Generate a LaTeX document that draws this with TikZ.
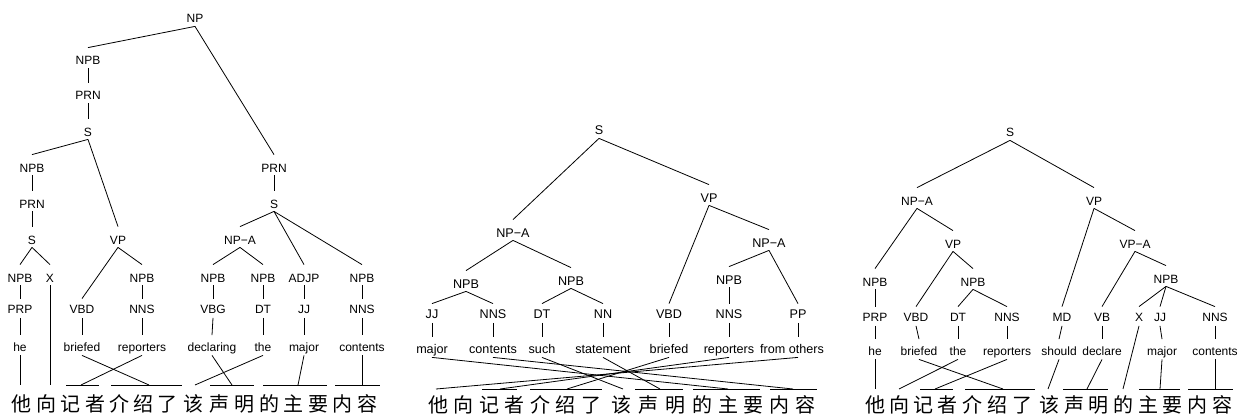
\documentclass[tikz,border=0pt]{standalone}
\usepackage{fontspec}
\setmainfont{Liberation Sans}
\newfontfamily\cjk{Noto Sans CJK SC}
\begin{document}
\begin{tikzpicture}[x=1pt,y=-1pt,line width=0.8pt,
  lab/.style={anchor=base,font=\fontsize{12}{14}\selectfont,inner xsep=1pt,inner ysep=0pt,text height=17pt,text depth=3pt},
  tag/.style={lab,text height=14pt,text depth=4.5pt},
  wrd/.style={lab,text height=15.5pt,text depth=4pt},
  zh/.style={anchor=base,font=\cjk\fontsize{20}{24}\selectfont,inner sep=0pt}]
\useasboundingbox (0,0) rectangle (1239,417);

% ---------------- Tree 1 ----------------
\node[lab] (A0) at (195,23) {NP};
\node[lab] (A1) at (88,65) {NPB};
\node[lab] (A2) at (88,100) {PRN};
\node[lab] (A3) at (88,136) {S};
\node[lab] (A4) at (32,172) {NPB};
\node[lab] (A5) at (32,208) {PRN};
\node[lab] (A6) at (32,244) {S};
\node[lab] (A7) at (118,244) {VP};
\node[lab] (A8) at (274,172) {PRN};
\node[lab] (A9) at (274,208) {S};
\node[lab] (A10) at (240,244) {NP−A};
\node[lab] (A11) at (20,282) {NPB};
\node[lab] (A12) at (50,282) {X};
\node[lab] (A13) at (142,282) {NPB};
\node[lab] (A14) at (213,282) {NPB};
\node[lab] (A15) at (263,282) {NPB};
\node[lab] (A16) at (304,282) {ADJP};
\node[lab] (A17) at (362,282) {NPB};
\node[tag] (A18) at (20,313) {PRP};
\node[tag] (A19) at (82,313) {VBD};
\node[tag] (A20) at (142,313) {NNS};
\node[tag] (A21) at (213,313) {VBG};
\node[tag] (A22) at (263,313) {DT};
\node[tag] (A23) at (304,313) {JJ};
\node[tag] (A24) at (362,313) {NNS};
\node[wrd] (A25) at (20,351) {he};
\node[wrd] (A26) at (82,351) {briefed};
\node[wrd] (A27) at (142,351) {reporters};
\node[wrd] (A28) at (212,351) {declaring};
\node[wrd] (A29) at (263,351) {the};
\node[wrd] (A30) at (304,351) {major};
\node[wrd] (A31) at (362,351) {contents};
\foreach \p/\c in {A0/A1,A1/A2,A2/A3,A3/A4,A3/A7,A4/A5,A5/A6,A6/A11,A6/A12,A11/A18,A18/A25,
  A7/A19,A7/A13,A13/A20,A19/A26,A20/A27,A0/A8,A8/A9,A9/A10,A9/A16,A9/A17,A10/A14,A10/A15,
  A14/A21,A21/A28,A15/A22,A22/A29,A16/A23,A23/A30,A17/A24,A24/A31}
  \draw (\p.south) -- (\c.north);
\foreach \c/\x [count=\i] in {他/21,向/46,记/70,者/95,介/119,绍/143,了/167,该/193,声/219,明/244,的/269,主/293,要/318,内/342,容/367}
  \node[zh] (Az\i) at (\x,411) {\c};
\foreach \n/\x in {1/20,2/50,3/81,4/149,5/232,6/195,7/298,8/362}
  \coordinate (Ae\n) at (\x,385);
\foreach \w/\n in {A25/1,A12/2,A27/3,A26/4,A28/5,A29/6,A30/7,A31/8}
  \draw (\w.south) -- (Ae\n);
\foreach \l/\r [count=\i] in {66/99,111/182,210/254,263/327,335/380}{
  \coordinate (Aul\i) at (\l,385); \coordinate (Aur\i) at (\r,385);
  \draw (Aul\i) -- (Aur\i);}

% ---------------- Tree 2 ----------------
\begin{scope}[lab/.append style={font=\fontsize{12.6}{15}\selectfont}]
\node[lab] (B0) at (599,135) {S};
\node[lab] (B1) at (513,237) {NP−A};
\node[lab] (B2) at (709,202) {VP};
\node[lab] (B3) at (769,247) {NP−A};
\node[lab] (B4) at (466,288) {NPB};
\node[lab] (B5) at (571,285) {NPB};
\node[lab] (B6) at (729,284) {NPB};
\node[tag] (B7) at (432,318) {JJ};
\node[tag] (B8) at (493,318) {NNS};
\node[tag] (B9) at (542,318) {DT};
\node[tag] (B10) at (603,318) {NN};
\node[tag] (B11) at (669,318) {VBD};
\node[tag] (B12) at (729,318) {NNS};
\node[tag] (B13) at (798,318) {PP};
\node[wrd] (B14) at (432,353) {major};
\node[wrd] (B15) at (493,353) {contents};
\node[wrd] (B16) at (542,353) {such};
\node[wrd] (B17) at (603,353) {statement};
\node[wrd] (B18) at (669,353) {briefed};
\node[wrd] (B19) at (729,353) {reporters};
\node[wrd] (B20) at (792,353) {from others};
\end{scope}
\foreach \p/\c in {B0/B1,B0/B2,B2/B11,B2/B3,B3/B6,B3/B13,B1/B4,B1/B5,B4/B7,B4/B8,B5/B9,B5/B10,
  B6/B12,B7/B14,B8/B15,B9/B16,B10/B17,B11/B18,B12/B19}
  \draw (\p.south) -- (\c.north);
\draw (B13.south) -- (B13.south |- B20.north);
\foreach \c/\x [count=\i] in {他/438,向/463,记/489,者/514,介/540,绍/565,了/591,该/621,声/648,明/675,的/702,主/728,要/753,内/779,容/805}
  \node[zh] (Bz\i) at (\x,412) {\c};
\foreach \n/\x in {1/728,2/793,3/623,4/660,5/567,6/500,7/436}
  \coordinate (Be\n) at (\x,389);
\foreach \w/\n in {B14/1,B15/2,B16/3,B17/4,B18/5,B19/6}
  \draw (\w.south) -- (Be\n);
\draw (B13.south |- B20.south) -- (Be7);
\foreach \l/\r [count=\i] in {482/517,530/602,635/683,693/760,770/817}{
  \coordinate (Bul\i) at (\l,389); \coordinate (Bur\i) at (\r,389);
  \draw (Bul\i) -- (Bur\i);}

% ---------------- Tree 3 ----------------
\node[lab] (C0) at (1010,137) {S};
\node[lab] (C1) at (917,205) {NP−A};
\node[lab] (C2) at (1094,205) {VP};
\node[lab] (C3) at (953,248) {VP};
\node[lab] (C4) at (1135,248) {VP−A};
\node[lab] (C5) at (875,286) {NPB};
\node[lab] (C6) at (973,286) {NPB};
\node[lab] (C7) at (1166,283) {NPB};
\node[tag] (C8) at (875,321) {PRP};
\node[tag] (C9) at (916,321) {VBD};
\node[tag] (C10) at (958,321) {DT};
\node[tag] (C11) at (1007,321) {NNS};
\node[tag] (C12) at (1062,321) {MD};
\node[tag] (C13) at (1102,321) {VB};
\node[tag] (C14) at (1139,321) {X};
\node[tag] (C15) at (1160,321) {JJ};
\node[tag] (C16) at (1215,321) {NNS};
\node[wrd] (C17) at (875,355) {he};
\node[wrd] (C18) at (919,355) {briefed};
\node[wrd] (C19) at (958,355) {the};
\node[wrd] (C20) at (1007,355) {reporters};
\node[wrd] (C21) at (1059,355) {should};
\node[wrd] (C22) at (1102,355) {declare};
\node[wrd] (C23) at (1162,355) {major};
\node[wrd] (C24) at (1215,355) {contents};
\foreach \p/\c in {C0/C1,C0/C2,C1/C5,C1/C3,C3/C9,C3/C6,C6/C10,C6/C11,C5/C8,C2/C12,C2/C4,C4/C13,
  C4/C7,C7/C14,C7/C15,C7/C16,C8/C17,C9/C18,C10/C19,C11/C20,C12/C21,C13/C22,C15/C23,C16/C24}
  \draw (\p.south) -- (\c.north);
\foreach \c/\x [count=\i] in {他/875,向/899,记/923,者/947,介/972,绍/997,了/1022,该/1049,声/1074,明/1098,的/1123,主/1148,要/1172,内/1197,容/1222}
  \node[zh] (Cz\i) at (\x,412) {\c};
\foreach \n/\x in {1/875,2/1003,3/899,4/935,5/1048,6/1087,7/1123,8/1160,9/1215}
  \coordinate (Ce\n) at (\x,389);
\foreach \w/\n in {C17/1,C18/2,C19/3,C20/4,C21/5,C22/6,C14/7,C23/8,C24/9}
  \draw (\w.south) -- (Ce\n);
\foreach \l/\r [count=\i] in {920/953,965/1035,1063/1108,1139/1180,1188/1233}{
  \coordinate (Cul\i) at (\l,389); \coordinate (Cur\i) at (\r,389);
  \draw (Cul\i) -- (Cur\i);}
\end{tikzpicture}
\end{document}
